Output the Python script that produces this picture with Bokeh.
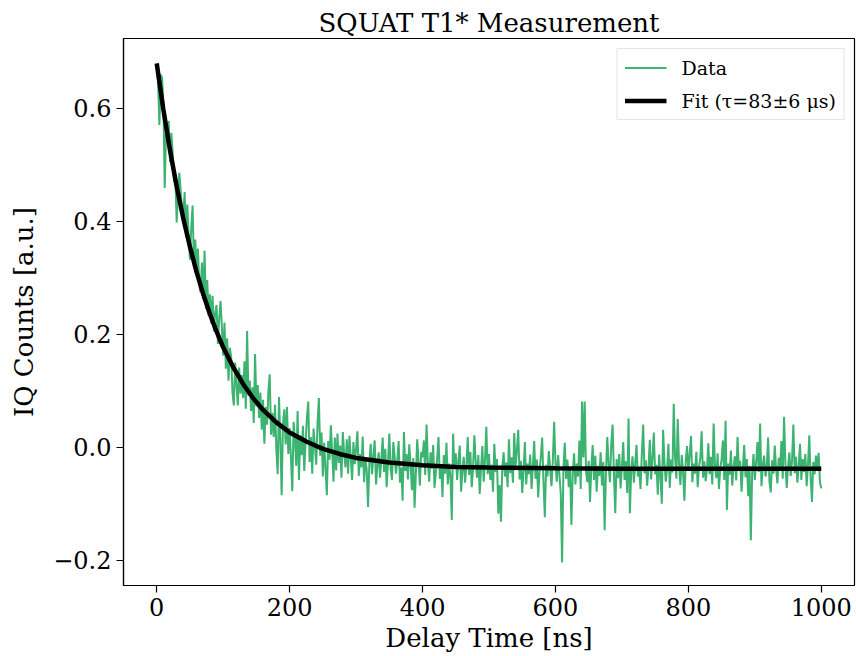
from bokeh.plotting import figure
from bokeh.models import CustomJSTickFormatter, FixedTicker, Legend, LegendItem
from bokeh.embed import file_html
from bokeh.resources import INLINE

# ---- data ----
title_text = "SQUAT T1* Measurement"
x_label = "Delay Time [ns]"
y_label = "IQ Counts [a.u.]"
data_label = "Data"
fit_label = "Fit (\u03c4=83\u00b16 \u03bcs)"

x_ticks = [0, 200, 400, 600, 800, 1000]
y_ticks = [-0.2, 0.0, 0.2, 0.4, 0.6]

# measured IQ counts, one sample every 2 ns from 0 to 1000 ns
iq_counts = [
    # 0 - 98 ns
    0.676, 0.648, 0.571, 0.660, 0.655, 0.612, 0.459, 0.557, 0.540, 0.578,
    0.505, 0.557, 0.521, 0.470, 0.482, 0.398, 0.446, 0.486, 0.455, 0.421,
    0.412, 0.452, 0.372, 0.430, 0.376, 0.332, 0.391, 0.428, 0.318, 0.368,
    0.310, 0.352, 0.287, 0.274, 0.327, 0.262, 0.348, 0.245, 0.296, 0.233,
    0.271, 0.219, 0.268, 0.205, 0.238, 0.252, 0.183, 0.227, 0.259, 0.214,
    # 100 - 198 ns
    0.162, 0.221, 0.139, 0.193, 0.118, 0.176, 0.160, 0.097, 0.074, 0.150,
    0.112, 0.074, 0.141, 0.095, 0.128, 0.087, 0.152, 0.068, 0.206, 0.091,
    0.118, 0.064, 0.106, 0.043, 0.165, 0.072, 0.110, 0.052, 0.097, 0.031,
    0.084, 0.006, 0.071, 0.040, 0.098, 0.129, 0.022, 0.061, 0.018, 0.075,
    -0.004, -0.048, 0.089, 0.012, -0.085, 0.042, 0.067, 0.005, 0.071, -0.012,
    # 200 - 298 ns
    0.034, -0.021, -0.078, 0.045, 0.012, -0.033, 0.064, -0.058, 0.021, -0.014,
    0.038, -0.042, 0.009, 0.052, 0.081, -0.026, 0.018, -0.047, 0.033, 0.002,
    -0.031, 0.044, 0.087, -0.015, 0.026, -0.052, 0.008, -0.037, -0.085, 0.011,
    -0.022, 0.039, -0.008, -0.061, 0.017, -0.041, 0.024, -0.028, 0.003, -0.054,
    0.027, -0.011, -0.036, 0.014, -0.047, 0.020, -0.019, -0.058, 0.009, -0.030,
    # 300 - 398 ns
    -0.004, 0.028, -0.051, -0.012, -0.036, 0.019, -0.062, -0.018, -0.041, -0.106,
    -0.027, 0.006, -0.048, -0.015, 0.012, -0.066, -0.033, -0.009, -0.054, -0.021,
    0.017, -0.044, -0.003, -0.071, -0.028, 0.024, -0.039, -0.058, 0.009, -0.016,
    -0.047, -0.024, 0.011, -0.063, -0.036, -0.095, 0.027, -0.042, -0.012, -0.057,
    0.005, -0.031, -0.076, -0.019, -0.107, -0.045, 0.014, -0.026, -0.068, -0.008,
    # 400 - 498 ns
    -0.018, 0.012, -0.049, 0.040, -0.027, -0.061, -0.009, -0.038, 0.004, -0.072,
    -0.045, -0.021, 0.018, -0.056, -0.031, -0.088, -0.014, -0.047, 0.008, -0.066,
    -0.029, -0.052, -0.129, 0.024, -0.036, -0.011, -0.058, -0.024, 0.003, -0.079,
    -0.042, -0.017, -0.063, -0.032, 0.018, -0.049, -0.008, -0.071, -0.037, 0.021,
    -0.026, -0.054, -0.014, -0.083, -0.039, 0.002, -0.061, -0.022, 0.036, -0.048,
    # 500 - 598 ns
    -0.012, -0.058, -0.031, -0.079, 0.006, -0.044, -0.021, -0.118, -0.067, -0.132,
    -0.036, -0.009, -0.052, -0.027, -0.071, 0.014, -0.046, -0.018, -0.063, 0.025,
    -0.034, -0.005, 0.031, -0.057, -0.024, -0.081, -0.041, 0.009, -0.066, -0.029,
    -0.048, -0.013, -0.074, -0.035, 0.011, -0.056, -0.022, -0.089, -0.043, -0.016,
    0.017, -0.061, -0.124, -0.031, -0.052, -0.007, -0.038, -0.069, -0.025, 0.045,
    # 600 - 698 ns
    -0.027, -0.061, -0.014, -0.049, -0.083, -0.204, -0.038, 0.008, -0.056, -0.022,
    -0.071, -0.035, -0.138, -0.047, -0.011, -0.066, -0.029, -0.052, 0.012, -0.074,
    0.081, -0.018, 0.081, -0.043, -0.062, -0.024, -0.097, -0.036, 0.004, -0.058,
    -0.015, -0.079, -0.033, -0.051, -0.009, -0.068, -0.026, -0.147, -0.044, 0.018,
    -0.031, -0.062, 0.006, 0.040, -0.047, -0.117, -0.021, -0.055, -0.012, -0.073,
    # 700 - 798 ns
    -0.034, 0.009, -0.058, -0.025, -0.081, 0.051, -0.117, -0.042, -0.016, -0.063,
    -0.029, 0.004, -0.052, -0.037, -0.074, -0.011, 0.040, -0.046, -0.023, -0.068,
    -0.035, 0.013, -0.057, -0.019, 0.026, -0.048, -0.031, -0.084, -0.013, -0.052,
    -0.100, 0.031, -0.027, -0.061, -0.038, 0.006, -0.072, -0.022, -0.045, 0.077,
    -0.018, -0.056, 0.050, -0.031, -0.067, -0.014, -0.043, -0.095, -0.026, 0.002,
    # 800 - 898 ns
    -0.041, -0.013, 0.020, -0.062, -0.029, -0.047, -0.008, -0.071, -0.036, -0.019,
    0.028, -0.054, -0.025, -0.060, -0.039, 0.007, -0.048, -0.017, -0.066, 0.042,
    -0.032, -0.055, -0.011, -0.074, -0.037, -0.022, 0.012, -0.058, 0.047, -0.111,
    -0.029, -0.049, -0.006, -0.068, -0.035, -0.016, -0.059, 0.018, -0.042, -0.024,
    -0.079, -0.037, 0.004, -0.053, -0.021, -0.087, -0.033, -0.165, -0.046, -0.012,
    # 900 - 1000 ns
    -0.058, -0.027, 0.009, -0.044, 0.042, -0.069, -0.031, -0.015, -0.052, -0.036,
    0.017, -0.061, -0.080, -0.023, -0.047, 0.003, -0.038, -0.064, -0.019, -0.042,
    0.011, -0.056, 0.054, -0.028, -0.072, -0.035, -0.009, -0.051, -0.024, 0.040,
    -0.046, -0.017, -0.063, -0.033, 0.006, -0.058, -0.021, -0.044, -0.012, -0.069,
    -0.031, 0.021, -0.054, -0.097, -0.026, -0.048, -0.015, -0.039, -0.010, -0.062,
    -0.073,
]
delay_ns = [2 * i for i in range(len(iq_counts))]

# fitted exponential decay
fit_delay_ns = [0, 10, 20, 30, 40, 50, 60, 70, 80, 90, 100, 115, 130, 145, 160,
                180, 200, 225, 250, 275, 300, 350, 400, 450, 500, 600, 700,
                800, 900, 1000]
fit_iq = [0.680, 0.598, 0.526, 0.462, 0.405, 0.355, 0.310, 0.271, 0.236,
          0.205, 0.177, 0.142, 0.112, 0.087, 0.066, 0.044, 0.026, 0.010,
          -0.003, -0.012, -0.019, -0.027, -0.032, -0.035, -0.036, -0.0375,
          -0.038, -0.038, -0.038, -0.038]

# ---- figure ----
FONT = "DejaVu Serif"
p = figure(width=856, height=656, x_range=(-50, 1050), y_range=(-0.245, 0.724),
           output_backend="svg", toolbar_location=None,
           min_border_left=123, min_border_right=2, min_border_top=38,
           min_border_bottom=71, background_fill_color="white",
           border_fill_color="white")

p.title.text = title_text
p.title.text_font = FONT
p.title.text_font_size = "26px"
p.title.text_font_style = "normal"
p.title.text_color = "black"
p.title.align = "center"
p.title.standoff = 2
p.title.offset = 0

r_data = p.line(delay_ns, iq_counts, line_color="#3cb371", line_width=2)
r_fit = p.line(fit_delay_ns, fit_iq, line_color="black", line_width=4.5)

p.xgrid.grid_line_color = None
p.ygrid.grid_line_color = None
p.outline_line_color = "black"
p.outline_line_width = 1.2

p.xaxis.ticker = FixedTicker(ticks=x_ticks)
p.yaxis.ticker = FixedTicker(ticks=y_ticks)
p.xaxis.formatter = CustomJSTickFormatter(code="return tick.toFixed(0);")
p.yaxis.formatter = CustomJSTickFormatter(
    code="return tick.toFixed(1).replace('-', '\u2212');")

for ax in (p.xaxis, p.yaxis):
    ax.axis_line_color = "black"
    ax.axis_line_width = 1.2
    ax.major_tick_line_color = "black"
    ax.major_tick_line_width = 1.2
    ax.major_tick_out = 7
    ax.major_tick_in = 0
    ax.minor_tick_line_color = None
    ax.major_label_text_font = FONT
    ax.major_label_text_font_size = "24px"
    ax.major_label_text_color = "black"
    ax.axis_label_text_font = FONT
    ax.axis_label_text_font_size = "26px"
    ax.axis_label_text_font_style = "normal"
    ax.axis_label_text_color = "black"

p.xaxis.axis_label = x_label
p.yaxis.axis_label = y_label
p.xaxis.major_label_standoff = 5
p.xaxis.axis_label_standoff = 4
p.yaxis.major_label_standoff = 5
p.yaxis.axis_label_standoff = 11

legend = Legend(items=[LegendItem(label=data_label, renderers=[r_data]),
                       LegendItem(label=fit_label, renderers=[r_fit])],
                location="top_right")
legend.margin = 10
legend.padding = 7
legend.spacing = 10
legend.glyph_width = 42
legend.glyph_height = 23
legend.label_height = 23
legend.label_standoff = 15
legend.label_text_font = FONT
legend.label_text_font_size = "19px"
legend.label_text_color = "black"
legend.border_line_color = "#cccccc"
legend.border_line_width = 1
legend.background_fill_alpha = 0.8
p.add_layout(legend)

open("out.html", "w").write(file_html(p, INLINE))
